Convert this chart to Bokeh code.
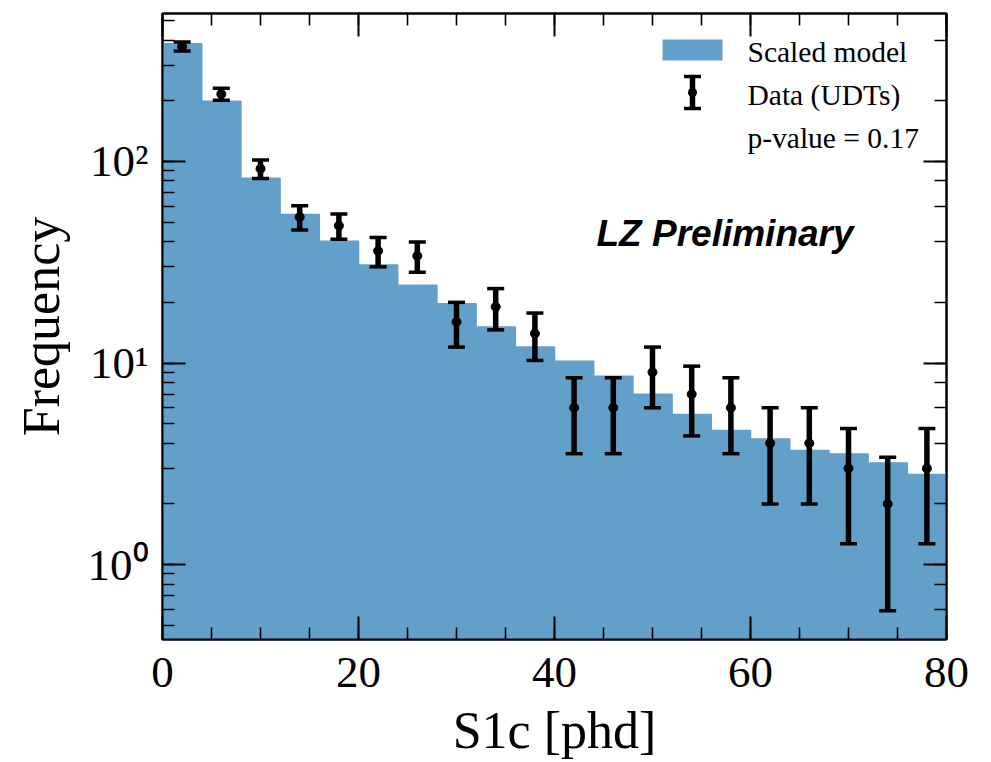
import numpy as np
from bokeh.plotting import figure
from bokeh.models import (Range1d, LinearAxis, LogAxis, SingleIntervalTicker, LogTicker,
                          Whisker, TeeHead, ColumnDataSource, Label, BoxAnnotation,
                          CustomJSTickFormatter)
from bokeh.embed import file_html
from bokeh.resources import INLINE

# ---------------- data ----------------
bin_edges = [0, 4, 8, 12, 16, 20, 24, 28, 32, 36, 40, 44, 48, 52, 56, 60, 64, 68, 72, 76, 80]
model_counts = [384, 199, 82.6, 54.6, 40.2, 30.6, 24.3, 19.7, 15.1, 12.0,
                10.2, 8.6, 7.0, 5.55, 4.63, 4.2, 3.68, 3.54, 3.19, 2.80]
data_counts = [372, 216, 92, 53, 48, 36, 34, 16, 19, 14, 6, 6, 9, 7, 6, 4, 4, 3, 2, 3]
data_err = [19.3, 14.7, 9.6, 7.3, 6.9, 6.0, 5.8, 4.0, 4.4, 3.7,
            2.45, 2.45, 3.0, 2.65, 2.45, 2.0, 2.0, 1.73, 1.41, 1.73]
x_ticks_major = 20
y_tick_labels = {1: "10⁰", 10: "10¹", 100: "10²"}
legend_labels = ["Scaled model", "Data (UDTs)", "p-value = 0.17"]
annotation_text = "LZ Preliminary"
x_label = "S1c [phd]"
y_label = "Frequency"

# ---------------- style ----------------
BLUE = "#62a0ca"
SERIF = "Liberation Serif"

edges = np.array(bin_edges, dtype=float)
centers = (edges[:-1] + edges[1:]) / 2
dc = np.array(data_counts, dtype=float)
de = np.array(data_err, dtype=float)

p = figure(width=991, height=762,
           x_range=Range1d(0, 80), y_range=Range1d(0.425, 542),
           y_axis_type="log", output_backend="svg", toolbar_location=None,
           min_border_left=162, min_border_right=45, min_border_top=13,
           min_border_bottom=123)
p.xgrid.visible = False
p.ygrid.visible = False
p.outline_line_color = "black"
p.outline_line_width = 2
p.background_fill_color = "white"
p.border_fill_color = "white"

bottom_axis = p.below[0]
left_axis = p.left[0]

y_floor = 0.01
p.quad(left=edges[:-1], right=edges[1:], bottom=y_floor, top=model_counts,
       fill_color=BLUE, line_color=BLUE, line_width=1.5)

src = ColumnDataSource(dict(x=centers, y=dc, lower=dc - de, upper=dc + de))
wh = Whisker(base="x", upper="upper", lower="lower", source=src, dimension="height",
             level="annotation", line_color="black", line_width=5.5,
             upper_head=TeeHead(size=17, line_width=3.5, line_color="black"),
             lower_head=TeeHead(size=17, line_width=3.5, line_color="black"))
p.add_layout(wh)
p.scatter("x", "y", source=src, size=9, color="black", level="annotation")

# ---------------- axes ----------------
bottom_axis.ticker = SingleIntervalTicker(interval=x_ticks_major, num_minor_ticks=4)
top_axis = LinearAxis(ticker=SingleIntervalTicker(interval=x_ticks_major, num_minor_ticks=4),
                      formatter=CustomJSTickFormatter(code="return ''"))
right_axis = LogAxis(ticker=LogTicker(), formatter=CustomJSTickFormatter(code="return ''"))
p.add_layout(top_axis, "above")
p.add_layout(right_axis, "right")

for ax in [bottom_axis, left_axis, top_axis, right_axis]:
    ax.major_tick_in = 23
    ax.major_tick_out = 0
    ax.minor_tick_in = 12
    ax.minor_tick_out = 0
    ax.major_tick_line_width = 2
    ax.minor_tick_line_width = 1.6
    ax.axis_line_width = 2
    ax.major_label_text_font = SERIF
    ax.major_label_text_color = "black"
    ax.axis_label_text_font = SERIF
    ax.axis_label_text_font_style = "normal"
    ax.axis_label_text_color = "black"

for ax in [top_axis, right_axis]:
    ax.major_label_standoff = 0
    ax.major_label_text_font_size = "1px"

bottom_axis.axis_label = x_label
bottom_axis.major_label_text_font_size = "45px"
bottom_axis.axis_label_text_font_size = "52px"
bottom_axis.major_label_standoff = 18
bottom_axis.axis_label_standoff = 12

left_axis.axis_label = y_label
left_axis.major_label_overrides = y_tick_labels
left_axis.major_label_text_font_size = "45px"
left_axis.axis_label_text_font_size = "52px"
left_axis.major_label_standoff = 14
left_axis.axis_label_standoff = 15

# ---------------- legend (screen units relative to the frame) ----------------
p.add_layout(BoxAnnotation(left=500, right=560, bottom=579, top=600,
                           left_units="screen", right_units="screen",
                           bottom_units="screen", top_units="screen",
                           fill_color=BLUE, fill_alpha=1, line_color=None))
leg_src = ColumnDataSource(dict(b=[530], u=[563], l=[531]))
p.add_layout(Whisker(base="b", upper="u", lower="l", source=leg_src,
                     base_units="screen", upper_units="screen", lower_units="screen",
                     dimension="height", level="annotation", line_color="black", line_width=5.5,
                     upper_head=TeeHead(size=17, line_width=3.5, line_color="black"),
                     lower_head=TeeHead(size=17, line_width=3.5, line_color="black")))
p.add_layout(BoxAnnotation(left=525.5, right=534.5, bottom=542.5, top=551.5,
                           left_units="screen", right_units="screen",
                           bottom_units="screen", top_units="screen",
                           border_radius=5, fill_color="black", fill_alpha=1,
                           line_color=None))
for txt, yb in zip(legend_labels, [588, 545, 502]):
    p.add_layout(Label(x=585, y=yb, x_units="screen", y_units="screen", text=txt,
                       text_font=SERIF, text_font_size="29.5px",
                       text_baseline="alphabetic", text_color="black"))

p.add_layout(Label(x=434, y=406, x_units="screen", y_units="screen", text=annotation_text,
                   text_font="Liberation Sans", text_font_style="bold italic",
                   text_font_size="37px", text_baseline="alphabetic", text_color="black"))

open("out.html", "w").write(file_html(p, INLINE))
